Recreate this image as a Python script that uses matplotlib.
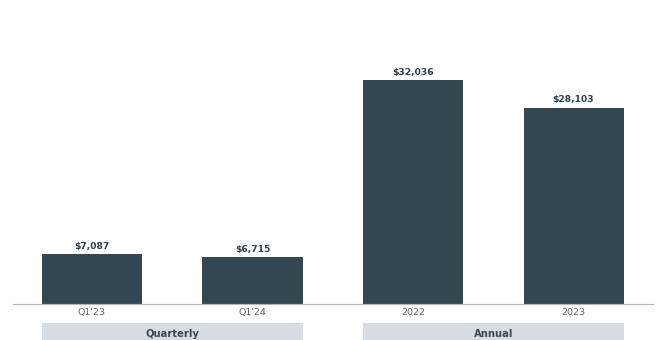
import matplotlib
matplotlib.use("Agg")
import matplotlib.pyplot as plt
from matplotlib.patches import Rectangle
import matplotlib.transforms as mtransforms

# Receita por período (US$ milhões)
periodos = ["Q1'23", "Q1'24", "2022", "2023"]
valores = [7087, 6715, 32036, 28103]
grupos = ["Quarterly", "Annual"]
grupo_idx = [[0, 1], [2, 3]]

cor_barra = "#344854"
cor_caixa = "#d6dce1"
cor_texto = "#2f3f4b"
cor_tick = "#5f6468"

plt.rcParams['font.family'] = ['DejaVu Sans']

fig = plt.figure(figsize=(6.57, 3.40), dpi=100)
ax = fig.add_axes([13 / 657, 36 / 340, 640 / 657, 304 / 340])

largura = 0.623
xs = list(range(len(valores)))
ax.bar(xs, valores, width=largura, color=cor_barra, zorder=2)

for x, v in zip(xs, valores):
    ax.text(x, v + 450, f"${v:,}", ha="center", va="bottom",
            fontsize=6.6, fontweight="bold", color=cor_texto)

ax.set_xlim(-0.492, 3.495)
ax.set_ylim(0, 43480)
ax.set_xticks(xs)
ax.set_xticklabels(periodos, fontsize=6.8, color=cor_tick)
ax.tick_params(axis="x", length=0, pad=3)
ax.set_yticks([])
for s in ["top", "left", "right"]:
    ax.spines[s].set_visible(False)
ax.spines["bottom"].set_color("#b5b5b5")
ax.spines["bottom"].set_linewidth(0.8)

# caixas de agrupamento abaixo dos rótulos
trans = mtransforms.blended_transform_factory(ax.transData, fig.transFigure)
for nome, idx in zip(grupos, grupo_idx):
    x0 = xs[idx[0]] - largura / 2
    x1 = xs[idx[-1]] + largura / 2
    fig.patches.append(Rectangle((x0, 0), x1 - x0, 17 / 340, transform=trans,
                                 facecolor=cor_caixa, edgecolor="none"))
    fig.text((x0 + x1) / 2, 6 / 340, nome, transform=trans, ha="center",
             va="center", fontsize=7.2, fontweight="bold", color="#3a4a55")

fig.savefig("out.png", dpi=100)
